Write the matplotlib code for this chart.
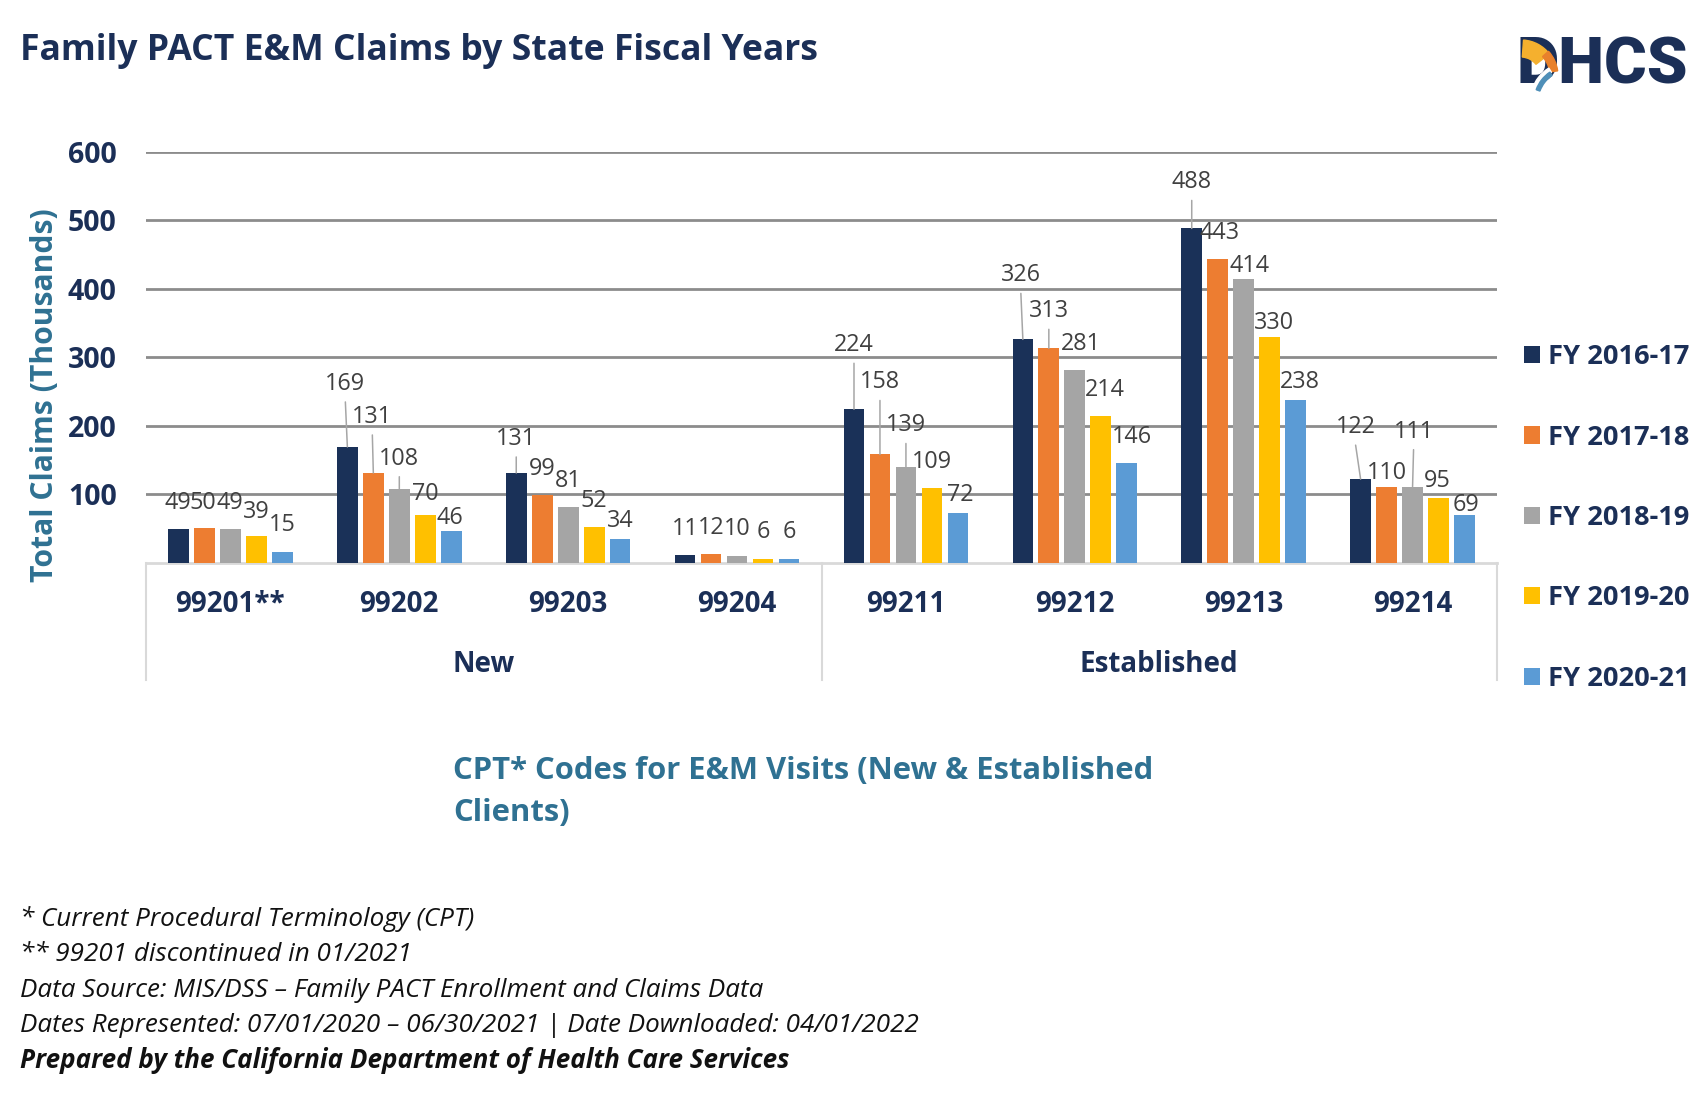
import matplotlib
matplotlib.use('Agg')
from matplotlib import pyplot as plt
from matplotlib import transforms
from matplotlib.patches import Wedge
import numpy as np

plt.rcParams['font.family'] = ['Open Sans', 'DejaVu Sans']

# ---- data ----
title = 'Family PACT E&M Claims by State Fiscal Years'
codes = ['99201**', '99202', '99203', '99204', '99211', '99212', '99213', '99214']
groups = ['New', 'Established']
group_sizes = [4, 4]
years = ['FY 2016-17', 'FY 2017-18', 'FY 2018-19', 'FY 2019-20', 'FY 2020-21']
fy1617 = [49, 169, 131, 11, 224, 326, 488, 122]
fy1718 = [50, 131, 99, 12, 158, 313, 443, 110]
fy1819 = [49, 108, 81, 10, 139, 281, 414, 111]
fy1920 = [39, 70, 52, 6, 109, 214, 330, 95]
fy2021 = [15, 46, 34, 6, 72, 146, 238, 69]
yticks = [100, 200, 300, 400, 500, 600]
ylabel = 'Total Claims (Thousands)'
xlabel = ['CPT* Codes for E&M Visits (New & Established', 'Clients)']
notes = ['* Current Procedural Terminology (CPT)',
         '** 99201 discontinued in 01/2021',
         'Data Source: MIS/DSS \u2013 Family PACT Enrollment and Claims Data',
         'Dates Represented: 07/01/2020 \u2013 06/30/2021 | Date Downloaded: 04/01/2022',
         'Prepared by the California Department of Health Care Services']

series = [fy1617, fy1718, fy1819, fy1920, fy2021]
colors = ['#1a3158', '#ed7d31', '#a5a5a5', '#ffc000', '#5b9bd5']

# label nudges (pixels, dx, dy above bar top), like excel's placement
nudges = [
    [(-1, 26), (-2, 63), (0, 34), (0, 26), (0, 64), (-2, 64), (0, 46), (-5, 52)],
    [(-2, 25), (-1, 56), (0, 26), (0, 26), (0, 72), (0, 37), (2, 26), (0, 14)],
    [(-1, 26), (0, 30), (0, 26), (0, 27), (0, 42), (6, 26), (6, 13), (1, 55)],
    [(0, 24), (0, 21), (0, 26), (0, 27), (0, 26), (4, 26), (4, 14), (-1, 17)],
    [(0, 27), (-1, 13), (0, 18), (0, 27), (2, 18), (5, 26), (4, 18), (1, 10)],
]

navy = '#1b2f57'
teal = '#2f7192'
W, H = 1707, 1110


def fx(px):
    return px / W


def fy(py):
    return 1 - py / H


fig = plt.figure(figsize=(W / 100, H / 100), dpi=100)
ax = fig.add_axes([fx(146), fy(562.7), fx(1497) - fx(146), fy(151.7) - fy(562.7)])

x = np.arange(len(codes))
pitch = 0.1538
width = 0.1225
handles = []
for k, (vals, col) in enumerate(zip(series, colors)):
    pos = x + (k - 2) * pitch
    b = ax.bar(pos, vals, width, color=col, zorder=3, label=years[k])
    handles.append(b)
    for i, v in enumerate(vals):
        dx, dy = nudges[k][i]
        ax.annotate(str(v), (pos[i], v), xytext=(dx, dy), textcoords='offset pixels',
                    ha='center', va='center', fontsize=16.8, color='#404040', zorder=5)
        if dy > 28:
            ax.annotate('', (pos[i], v), xytext=(dx, dy - 18), textcoords='offset pixels',
                        arrowprops=dict(arrowstyle='-', color='#a6a6a6', lw=1.1,
                                        shrinkA=0, shrinkB=0), zorder=4)

ax.set_xlim(-0.5, len(codes) - 0.5)
ax.set_ylim(0, 600)
ax.set_yticks(yticks)
ax.set_xticks([])
ax.yaxis.grid(True, color='#8c8c8c', lw=2)
ax.set_axisbelow(True)
for s in ['top', 'left', 'right']:
    ax.spines[s].set_visible(False)
ax.spines['bottom'].set_color('#d9d9d9')
ax.spines['bottom'].set_linewidth(2)
ax.tick_params(axis='y', length=0, pad=21, labelsize=20.5, labelcolor=navy)
for t in ax.get_yticklabels():
    t.set_fontweight('bold')

# category + group labels under axis
trans = transforms.blended_transform_factory(ax.transData, fig.transFigure)
for i, c in enumerate(codes):
    ax.text(i, fy(605), c, transform=trans, ha='center', va='center',
            fontsize=20, fontweight='bold', color=navy)
edges = np.concatenate([[0], np.cumsum(group_sizes)]) - 0.5
for g, lo, hi in zip(groups, edges[:-1], edges[1:]):
    ax.text((lo + hi) / 2, fy(665), g, transform=trans, ha='center', va='center',
            fontsize=20, fontweight='bold', color=navy)
for e in edges:
    ax.plot([e, e], [fy(562.7), fy(680)], transform=trans, color='#d9d9d9',
            lw=1.5, clip_on=False)

fig.text(fx(45), fy(395), ylabel, rotation=90, ha='center', va='center',
         fontsize=21.7, fontweight='bold', color=teal)
fig.text(fx(453), fy(770.5), xlabel[0], ha='left', va='center',
         fontsize=22.3, fontweight='bold', color=teal)
fig.text(fx(453), fy(813), xlabel[1], ha='left', va='center',
         fontsize=22.3, fontweight='bold', color=teal)

fig.text(fx(20), fy(51), title, ha='left', va='center', fontsize=25.6,
         fontweight='bold', color=navy)

leg = ax.legend(handles=handles, loc='center left', bbox_to_anchor=(fx(1524), fy(518)),
                bbox_transform=fig.transFigure, frameon=False, borderpad=0,
                borderaxespad=0, handlelength=0.6, handleheight=0.6,
                handletextpad=0.3, labelspacing=2.0,
                prop=dict(size=19.6, weight='bold'))
for t in leg.get_texts():
    t.set_color(navy)

note_y = [918.5, 954.4, 990.3, 1025, 1061]
for k, (n, yy) in enumerate(zip(notes, note_y)):
    fig.text(fx(20), fy(yy), n, ha='left', va='center', fontsize=18.7,
             style='italic', fontweight='bold' if k == len(notes) - 1 else 'normal',
             color='#111111')

# DHCS logo
fig.text(fx(1516), fy(66), 'DHCS', ha='left', va='center', fontsize=47,
         fontweight='heavy', color=navy, family=['Roboto', 'DejaVu Sans'], zorder=3)
inch = fig.dpi_scale_trans
fig.patches.append(Wedge((1521 / 100, (H - 76) / 100), 0.36, 38, 86,
                         width=0.17, color='#f5b02e', transform=inch, zorder=5))
fig.patches.append(Wedge((1521 / 100, (H - 76) / 100), 0.37, 8, 42,
                         width=0.08, color='#e8812c', transform=inch, zorder=5))
fig.patches.append(Wedge((1570 / 100, (H - 102) / 100), 0.40, 122, 162,
                         width=0.05, color='white', transform=inch, zorder=5))
fig.patches.append(Wedge((1570 / 100, (H - 102) / 100), 0.36, 124, 160,
                         width=0.04, color='#4f8fb8', transform=inch, zorder=6))

fig.savefig('out.png', dpi=100)
